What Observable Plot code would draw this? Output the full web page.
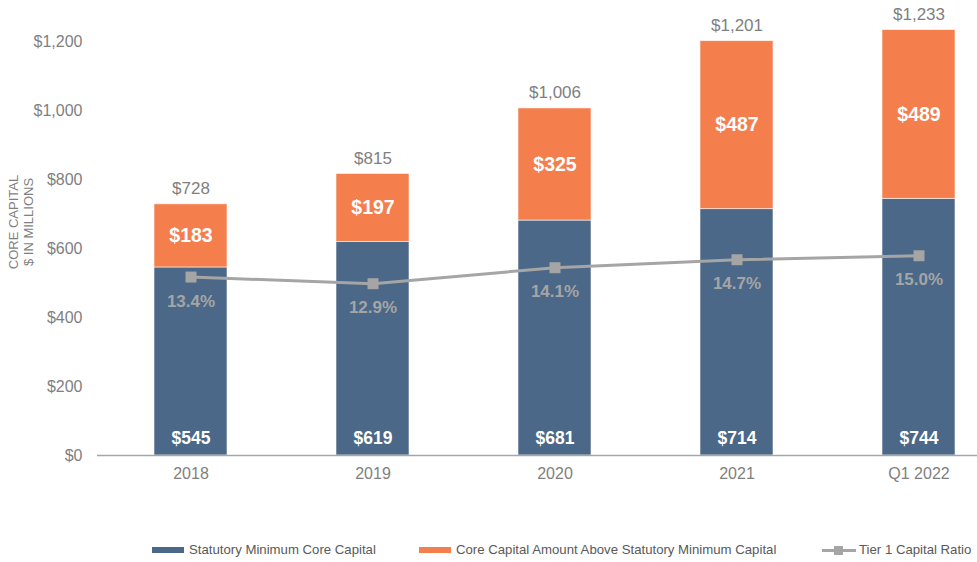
<!DOCTYPE html>
<html>
<head>
<meta charset="utf-8">
<script src="https://cdn.jsdelivr.net/npm/d3@7"></script>
<script src="https://cdn.jsdelivr.net/npm/@observablehq/plot@0.6"></script>
<style>
  html, body { margin: 0; padding: 0; background: #fff; }
  body { width: 977px; height: 562px; overflow: hidden; font-family: "Liberation Sans", Arial, sans-serif; }
  #chart svg { display: block; overflow: visible; }
  #legend { position: relative; height: 32px; font-size: 13.2px; color: #595959; }
  .item { position: absolute; top: 12px; display: flex; align-items: center; white-space: nowrap; }
  .sw { width: 32px; height: 6px; margin-right: 5px; }
  .lsw { position: relative; width: 34px; height: 12px; margin-right: 3px; }
  .lsw .ln { position: absolute; left: 0; right: 0; top: 5px; height: 3px; background: #a5a5a5; }
  .lsw .mk { position: absolute; left: 12px; top: 2px; width: 9px; height: 9px; background: #a5a5a5; }
</style>
</head>
<body>
<div id="chart"></div>
<div id="legend">
  <div class="item" style="left:152px"><div class="sw" style="background:#4b6888"></div>Statutory Minimum Core Capital</div>
  <div class="item" style="left:419px"><div class="sw" style="background:#f47e4c"></div>Core Capital Amount Above Statutory Minimum Capital</div>
  <div class="item" style="left:822px"><div class="lsw"><div class="ln"></div><div class="mk"></div></div>Tier 1 Capital Ratio</div>
</div>
<script>
const categories = ["2018", "2019", "2020", "2021", "Q1 2022"];
const statutoryMinimum = [545, 619, 681, 714, 744];
const aboveMinimum = [183, 197, 325, 487, 489];
const totals = [728, 815, 1006, 1201, 1233];
const tier1Ratio = [13.4, 12.9, 14.1, 14.7, 15.0];
const yTicks = [0, 200, 400, 600, 800, 1000, 1200];
const seriesNames = ["Statutory Minimum Core Capital", "Core Capital Amount Above Statutory Minimum Capital"];

// secondary (ratio) axis mapped onto the primary dollar axis
const ratioToPrimary = 38.6;

const stacked = [];
categories.forEach((c, i) => {
  stacked.push({cat: c, series: seriesNames[0], value: statutoryMinimum[i]});
  stacked.push({cat: c, series: seriesNames[1], value: aboveMinimum[i]});
});
const rows = categories.map((c, i) => ({
  cat: c, min: statutoryMinimum[i], above: aboveMinimum[i], total: totals[i],
  ratio: tier1Ratio[i], ratioY: tier1Ratio[i] * ratioToPrimary
}));

const money = d => "$" + d3.format(",")(d);
const font = "'Liberation Sans', Arial, sans-serif";

const chart = Plot.plot({
  width: 977,
  height: 530,
  marginLeft: 97,
  marginRight: 0,
  marginTop: 41,
  marginBottom: 75,
  style: {fontFamily: font, background: "white", overflow: "visible"},
  x: {domain: categories, range: [97.6, 1011], paddingInner: 0.6, paddingOuter: 0.3},
  y: {domain: [0, 1200]},
  color: {domain: seriesNames, range: ["#4b6888", "#f47e4c"]},
  marks: [
    Plot.axisY({ticks: yTicks, tickSize: 0, tickPadding: 15, tickFormat: money, label: null,
      fontSize: 16, color: "#7f7f7f"}),
    Plot.axisX({tickSize: 0, tickPadding: 12, label: null, fontSize: 16, color: "#7f7f7f"}),
    Plot.barY(stacked, {x: "cat", y: "value", fill: "series", stroke: "white", strokeWidth: 0.8, strokeOpacity: 0.7}),
    Plot.ruleY([0], {stroke: "#a6a6a6", strokeWidth: 1.5}),
    Plot.text(rows, {x: "cat", y: "total", text: d => money(d.total), dy: -16, fontSize: 17, fill: "#7f7f7f"}),
    Plot.text(rows, {x: "cat", y: d => d.min + d.above / 2, text: d => money(d.above), fontSize: 19.5, fontWeight: "bold", fill: "white"}),
    Plot.text(rows, {x: "cat", y: 0, text: d => money(d.min), dy: -17, fontSize: 17.5, fontWeight: "bold", fill: "white"}),
    Plot.line(rows, {x: "cat", y: "ratioY", stroke: "#a5a5a5", strokeWidth: 3}),
    Plot.dot(rows, {x: "cat", y: "ratioY", symbol: "square", r: 6.2, fill: "#a5a5a5", stroke: "none"}),
    Plot.text(rows, {x: "cat", y: "ratioY", text: d => d.ratio.toFixed(1) + "%", dy: 24, fontSize: 17, fontWeight: "bold", fill: "#a5a5a5"})
  ]
});

const svg = d3.select(chart);
const title = svg.append("text")
  .attr("transform", "translate(13,222) rotate(-90)")
  .attr("text-anchor", "middle")
  .attr("font-family", font)
  .attr("font-size", 13)
  .attr("fill", "#7f7f7f");
title.append("tspan").attr("x", 0).attr("dy", "0.35em").text("CORE CAPITAL");
title.append("tspan").attr("x", 0).attr("dy", "1.15em").text("$ IN MILLIONS");

document.getElementById("chart").appendChild(chart);
</script>
</body>
</html>
